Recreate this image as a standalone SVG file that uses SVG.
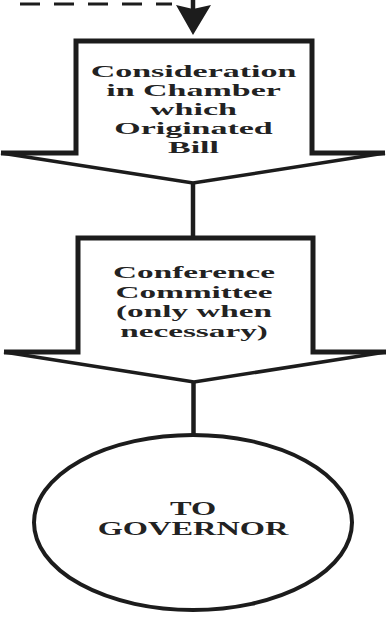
<svg xmlns="http://www.w3.org/2000/svg" width="386" height="620" viewBox="0 0 386 620">
<style>
.bg{fill:#fff}
.side{fill:none;stroke:#1c1c1c;stroke-width:5;stroke-linejoin:miter}
.diag{fill:none;stroke:#1c1c1c;stroke-width:3.5;stroke-linejoin:miter}
.conn{fill:none;stroke:#1c1c1c;stroke-width:4.5}
.dash{fill:none;stroke:#1c1c1c;stroke-width:3;stroke-dasharray:20 14}
.lbl{font-family:"Liberation Serif","Times New Roman",serif;font-weight:bold;fill:#222;text-anchor:middle}
</style>
<rect class="bg" width="386" height="620"/>
<g id="connectors">
<path class="dash" d="M20 4 H172"/>
<line class="conn" x1="193" y1="0" x2="193" y2="12"/>
<polygon points="176,5 193,9 211,5 193,35" fill="#1c1c1c"/>
<line class="conn" x1="193" y1="183" x2="193" y2="238"/>
<line class="conn" x1="193.5" y1="382" x2="193.5" y2="435"/>
</g>
<g id="node-consideration">
<path class="side" d="M1 153 H76 V41 H312 V153 H385"/>
<path class="diag" d="M1 153 L193 183 L385 153"/>
<g transform="translate(193.5 0) scale(2 1)">
<text class="lbl" font-size="17" x="0" y="77.5">Consideration</text>
<text class="lbl" font-size="17" x="0" y="96.5">in Chamber</text>
<text class="lbl" font-size="17" x="0" y="115.5">which</text>
<text class="lbl" font-size="17" x="0" y="134.5">Originated</text>
<text class="lbl" font-size="17" x="0" y="153.5">Bill</text>
</g>
</g>
<g id="node-conference">
<path class="side" d="M4 352 H78 V238 H313 V352 H386"/>
<path class="diag" d="M4 352 L194 382 L386 352"/>
<g transform="translate(194 0) scale(1.9 1)">
<text class="lbl" font-size="17.5" x="0" y="278.3">Conference</text>
<text class="lbl" font-size="17.5" x="0" y="297.8">Committee</text>
<text class="lbl" font-size="17.5" x="0" y="317.3">(only when</text>
<text class="lbl" font-size="17.5" x="0" y="336.8">necessary)</text>
</g>
</g>
<g id="node-governor">
<ellipse cx="193" cy="522.5" rx="159" ry="87.5" fill="none" stroke="#1c1c1c" stroke-width="4"/>
<g transform="translate(193 0) scale(1.8 1)">
<text class="lbl" font-size="18" x="0" y="515">TO</text>
<text class="lbl" font-size="18" x="0" y="535">GOVERNOR</text>
</g>
</g>
</svg>
